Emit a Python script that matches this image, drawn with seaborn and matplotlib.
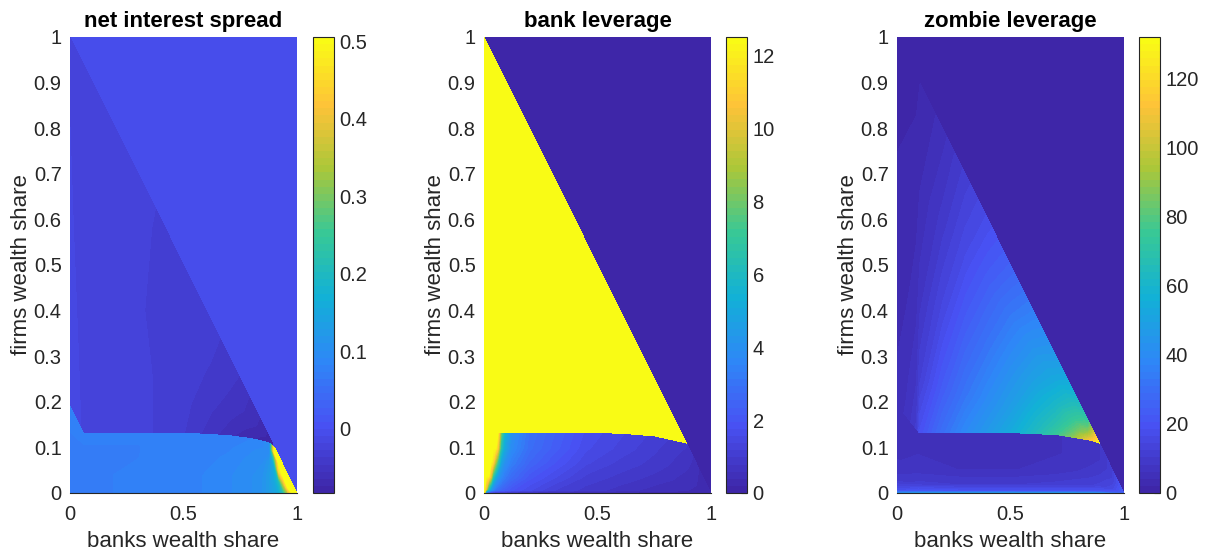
import numpy as np
import matplotlib
matplotlib.use("Agg")
import matplotlib.pyplot as plt
from matplotlib.colors import ListedColormap, Normalize
from matplotlib.cm import ScalarMappable
import seaborn as sns

# ---------------- text ----------------
titles = ["net interest spread", "bank leverage", "zombie leverage"]
x_label = "banks wealth share"
y_label = "firms wealth share"
x_ticks = [0, 0.5, 1]
x_ticklabels = ["0", "0.5", "1"]
y_ticks = [0, 0.1, 0.2, 0.3, 0.4, 0.5, 0.6, 0.7, 0.8, 0.9, 1]
y_ticklabels = ["0", "0.1", "0.2", "0.3", "0.4", "0.5", "0.6", "0.7", "0.8", "0.9", "1"]

# colour limits and colourbar ticks
nis_clim = [-0.0835, 0.506]
lev_clim = [0.0, 12.5]
zom_clim = [0.0, 132.0]
nis_cticks = [0, 0.1, 0.2, 0.3, 0.4, 0.5]
nis_cticklabels = ["0", "0.1", "0.2", "0.3", "0.4", "0.5"]
lev_cticks = [0, 2, 4, 6, 8, 10, 12]
lev_cticklabels = ["0", "2", "4", "6", "8", "10", "12"]
zom_cticks = [0, 20, 40, 60, 80, 100, 120]
zom_cticklabels = ["0", "20", "40", "60", "80", "100", "120"]

# ---------------- regime boundary (low firm-wealth regime) ----------------
curve_x = [0.00, 0.01, 0.02, 0.03, 0.045, 0.06, 0.20, 0.40, 0.55, 0.65, 0.72, 0.78, 0.83, 0.87, 0.893]
curve_y = [0.190, 0.168, 0.152, 0.141, 0.134, 0.131, 0.131, 0.131, 0.130, 0.128, 0.125, 0.121, 0.116, 0.111, 0.107]

# ---------------- net interest spread ----------------
nis_A = -0.005                      # region x + y > 1
nis_C_x = [0, 0.06, 0.2, 0.36, 0.5, 0.62, 0.74, 0.84, 0.893]
nis_C_f = [0, 0.2, 0.5, 1.0]
nis_C_v = [
    [-0.015, -0.020, -0.025, -0.028, -0.037, -0.052, -0.067, -0.079, -0.083],
    [-0.016, -0.021, -0.025, -0.028, -0.034, -0.046, -0.060, -0.074, -0.083],
    [-0.018, -0.022, -0.025, -0.029, -0.031, -0.039, -0.052, -0.068, -0.083],
    [-0.020, -0.023, -0.025, -0.028, -0.030, -0.033, -0.046, -0.066, -0.083],
]
nis_B_x = [0, 0.06, 0.3, 0.55, 0.7, 0.8, 0.85, 0.88, 0.9, 0.92, 0.94, 0.96, 0.98, 1.0]
nis_B_f = [0, 0.3, 0.6, 0.8, 0.9, 1.0]
nis_B_v = [
    [0.072, 0.072, 0.074, 0.080, 0.090, 0.100, 0.110, 0.130, 0.140, 0.160, 0.220, 0.350, 0.500, 0.500],
    [0.072, 0.072, 0.074, 0.080, 0.090, 0.100, 0.110, 0.130, 0.150, 0.200, 0.350, 0.500, 0.500, 0.500],
    [0.072, 0.072, 0.073, 0.076, 0.085, 0.095, 0.100, 0.120, 0.170, 0.450, 0.500, 0.500, 0.500, 0.500],
    [0.074, 0.073, 0.073, 0.075, 0.080, 0.090, 0.095, 0.100, 0.300, 0.500, 0.500, 0.500, 0.500, 0.500],
    [0.076, 0.074, 0.074, 0.075, 0.078, 0.085, 0.090, 0.100, 0.500, 0.500, 0.500, 0.500, 0.500, 0.500],
    [0.078, 0.076, 0.076, 0.076, 0.078, 0.082, 0.088, 0.100, 0.500, 0.500, 0.500, 0.500, 0.500, 0.500],
]

# ---------------- bank leverage ----------------
lev_A = 0.0
lev_C_x = [0, 0.02, 0.04, 0.06, 0.3, 0.6, 0.75, 0.85, 0.893]
lev_C_f = [0, 1.0]
lev_C_v = [
    [12.5, 12.5, 12.5, 12.5, 12.5, 12.5, 12.5, 12.5, 12.5],
    [12.5, 12.5, 12.5, 12.5, 12.5, 12.5, 12.5, 12.5, 12.5],
]
lev_B_x = [0, 0.01, 0.02, 0.03, 0.04, 0.05, 0.06, 0.075, 0.09, 0.12, 0.2, 0.3, 0.45, 0.6, 0.75, 0.893, 0.95, 1.0]
lev_B_f = [0, 0.05, 0.25, 0.5, 0.75, 1.0]
lev_B_v = [
    [12.5, 1.5, 1.2, 1.0, 0.9, 0.8, 0.8, 0.7, 0.7, 0.6, 0.5, 0.4, 0.35, 0.3, 0.3, 0.25, 0.2, 0.2],
    [12.5, 10.0, 6.0, 4.5, 3.5, 3.0, 2.8, 2.5, 2.3, 2.0, 1.6, 1.2, 0.9, 0.7, 0.5, 0.4, 0.3, 0.2],
    [12.5, 12.5, 12.5, 10.0, 6.5, 5.0, 4.2, 3.6, 3.2, 2.7, 2.0, 1.6, 1.1, 0.9, 0.7, 0.5, 0.35, 0.2],
    [12.5, 12.5, 12.5, 12.5, 11.5, 9.0, 7.0, 4.8, 4.0, 3.3, 2.5, 2.0, 1.4, 1.1, 0.9, 0.6, 0.35, 0.2],
    [12.5, 12.5, 12.5, 12.5, 12.5, 12.5, 11.0, 6.5, 5.0, 3.8, 2.8, 2.3, 1.6, 1.3, 1.0, 0.7, 0.35, 0.2],
    [12.5, 12.5, 12.5, 12.5, 12.5, 12.5, 12.5, 8.0, 5.5, 4.0, 2.9, 2.4, 1.7, 1.4, 1.1, 0.8, 0.35, 0.2],
]

# ---------------- zombie leverage ----------------
zom_A = 0.0
zom_C_x = [0, 0.04, 0.085, 0.1, 0.2, 0.3, 0.4, 0.5, 0.6, 0.7, 0.78, 0.84, 0.893]
zom_C_f = [0, 0.15, 0.4, 0.7, 1.0]
zom_C_v = [
    [5.0, 7.0, 11.0, 19.0, 30.0, 39.0, 46.0, 54.0, 63.0, 75.0, 90.0, 110.0, 130.0],
    [4.0, 5.5, 8.0, 12.0, 23.0, 32.0, 40.0, 48.0, 58.0, 68.0, 82.0, 102.0, 130.0],
    [3.0, 3.5, 5.0, 7.0, 15.0, 24.0, 32.0, 41.0, 50.0, 61.0, 74.0, 90.0, 130.0],
    [2.0, 2.5, 3.0, 4.0, 9.0, 16.0, 24.0, 33.0, 43.0, 53.0, 66.0, 80.0, 130.0],
    [0.5, 1.0, 1.5, 2.0, 5.0, 11.0, 17.0, 25.0, 35.0, 46.0, 58.0, 72.0, 130.0],
]
zom_B_x = [0, 0.093, 0.3, 0.5, 0.7, 0.85, 0.893, 0.95, 1.0]
zom_B_f = [0, 0.03, 0.15, 0.4, 0.7, 1.0]
zom_B_v = [
    [40.0, 45.0, 45.0, 45.0, 45.0, 42.0, 40.0, 30.0, 25.0],
    [18.0, 22.0, 20.0, 20.0, 20.0, 20.0, 20.0, 22.0, 25.0],
    [9.0, 11.0, 10.0, 10.0, 11.0, 12.0, 13.0, 16.0, 25.0],
    [6.0, 7.0, 6.0, 6.0, 7.0, 9.0, 10.0, 14.0, 25.0],
    [5.0, 6.0, 5.0, 5.0, 6.0, 7.0, 8.0, 12.0, 25.0],
    [5.0, 6.0, 5.0, 5.0, 6.0, 7.0, 8.0, 12.0, 25.0],
]

# ---------------- style ----------------
sns.set_theme(style="white")
plt.rcParams["font.family"] = ["Liberation Sans", "DejaVu Sans"]
TXT = "#262626"

parula_anchors = ["#3E26A8", "#4852F4", "#2E87F7", "#12B1D6",
                  "#37C897", "#ABC739", "#FEC338", "#F9FB15"]
cmap = ListedColormap(sns.blend_palette(parula_anchors, n_colors=64))


def region_top_low(xs):
    xs = np.asarray(xs, float)
    return np.where(xs <= curve_x[-1], np.interp(xs, curve_x, curve_y), 1.0 - xs)


def mesh_low(xs, fs):
    xs = np.asarray(xs, float)
    X = np.tile(xs, (len(fs), 1))
    Y = np.outer(fs, region_top_low(xs))
    return X, Y


def mesh_mid(xs, fs):
    xs = np.asarray(xs, float)
    lo = np.interp(xs, curve_x, curve_y)
    hi = 1.0 - xs
    X = np.tile(xs, (len(fs), 1))
    Y = lo[None, :] + np.outer(fs, hi - lo)
    return X, Y


fig = plt.figure(figsize=(12.11, 5.52), dpi=100)

ax_bottom = 59 / 552
ax_height = 456 / 552
ax_lefts = [70 / 1211, 484 / 1211, 897 / 1211]
cb_lefts = [313 / 1211, 726 / 1211, 1139 / 1211]
ax_width = 227 / 1211
cb_width = 21 / 1211

panels = [
    (nis_clim, nis_cticks, nis_cticklabels, nis_A, nis_C_x, nis_C_f, nis_C_v, nis_B_x, nis_B_f, nis_B_v),
    (lev_clim, lev_cticks, lev_cticklabels, lev_A, lev_C_x, lev_C_f, lev_C_v, lev_B_x, lev_B_f, lev_B_v),
    (zom_clim, zom_cticks, zom_cticklabels, zom_A, zom_C_x, zom_C_f, zom_C_v, zom_B_x, zom_B_f, zom_B_v),
]

for i, (clim, cticks, ctl, vA, cx, cf, cv, bx, bf, bv) in enumerate(panels):
    ax = fig.add_axes([ax_lefts[i], ax_bottom, ax_width, ax_height])
    cax = fig.add_axes([cb_lefts[i], ax_bottom, cb_width, ax_height])
    norm = Normalize(vmin=clim[0], vmax=clim[1])
    levels = np.linspace(clim[0], clim[1], 65)

    # infeasible region background (x + y > 1)
    ax.pcolormesh([0, 1], [0, 1], [[vA]], cmap=cmap, norm=norm, shading="flat")
    # middle regime
    X, Y = mesh_mid(cx, cf)
    ax.contourf(X, Y, np.asarray(cv, float), levels=levels, cmap=cmap, norm=norm,
                extend="both", antialiased=False)
    # low firm-wealth regime
    X, Y = mesh_low(bx, bf)
    ax.contourf(X, Y, np.asarray(bv, float), levels=levels, cmap=cmap, norm=norm,
                extend="both", antialiased=False)

    ax.set_xlim(0, 1)
    ax.set_ylim(0, 1)
    ax.set_xticks(x_ticks)
    ax.set_xticklabels(x_ticklabels)
    ax.set_yticks(y_ticks)
    ax.set_yticklabels(y_ticklabels)
    ax.tick_params(axis="both", length=0, labelsize=14.5, labelcolor=TXT)
    ax.tick_params(axis="x", pad=9)
    ax.tick_params(axis="y", pad=6)
    for side in ["top", "left", "right"]:
        ax.spines[side].set_visible(False)
    ax.spines["bottom"].set_color(TXT)
    ax.spines["bottom"].set_linewidth(0.8)
    ax.spines["bottom"].set_zorder(5)
    ax.set_xlabel(x_label, fontsize=16, color=TXT, labelpad=5)
    ax.set_ylabel(y_label, fontsize=16, color=TXT, labelpad=1)
    ax.set_title(titles[i], fontsize=16, fontweight="bold", color="black", pad=7)

    sm = ScalarMappable(norm=norm, cmap=cmap)
    cb = fig.colorbar(sm, cax=cax)
    cb.set_ticks(cticks)
    cb.set_ticklabels(ctl)
    cb.outline.set_edgecolor(TXT)
    cb.outline.set_linewidth(0.8)
    cax.tick_params(direction="in", length=4, width=0.8, color=TXT,
                    labelsize=14.5, labelcolor=TXT, pad=4)

fig.savefig("out.png", dpi=100)
